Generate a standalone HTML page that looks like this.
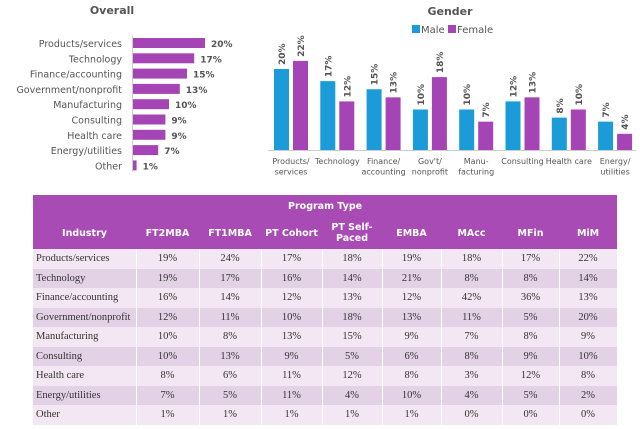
<!DOCTYPE html>
<html><head><meta charset="utf-8"><style>
body{margin:0;background:#fff;width:640px;height:429px;overflow:hidden;font-family:"DejaVu Sans","Liberation Sans",sans-serif}
svg{position:absolute;left:0;top:0}
table{position:absolute;left:33px;top:195px;width:584px;table-layout:fixed;border-collapse:collapse;font-family:"Liberation Serif",serif;font-size:10.5px;color:#333}
td,th{padding:0;text-align:center;white-space:nowrap;overflow:hidden}
td{border-right:1px solid #fff}
th{background:#a84bb4;color:#fff;font-family:"DejaVu Sans",sans-serif;font-size:9.5px;font-weight:bold;line-height:11px}
td{height:19.5px}
tr.l td{background:#f2e7f3} tr.d td{background:#e3d2e6}
td.n{text-align:left;padding-left:3px}
</style></head><body>
<svg width="640" height="195">
<g id="ov"></g>
<g id="gd"></g>
</svg>
<table>
<colgroup><col style="width:103px"><col style="width:63px"><col style="width:62px"><col style="width:61px"><col style="width:60px"><col style="width:59px"><col style="width:61px"><col style="width:57px"><col style="width:58px"></colgroup>
<tr style="height:22px"><th colspan="9">Program Type</th></tr>
<tr style="height:32px"><th>Industry</th><th>FT2MBA</th><th>FT1MBA</th><th>PT Cohort</th><th>PT Self-<br>Paced</th><th>EMBA</th><th>MAcc</th><th>MFin</th><th>MiM</th></tr>
<tbody id="tb"></tbody>
</table>
<script>
const NS="http://www.w3.org/2000/svg";
const categories=["Products/services","Technology","Finance/accounting","Government/nonprofit","Manufacturing","Consulting","Health care","Energy/utilities","Other"];
const overallValues=[20,17,15,13,10,9,9,7,1];
const genderCats=[["Products/","services"],["Technology"],["Finance/","accounting"],["Gov't/","nonprofit"],["Manu-","facturing"],["Consulting"],["Health care"],["Energy/","utilities"]];
const maleValues=[20,17,15,10,10,12,8,7];
const femaleValues=[22,12,13,18,7,13,10,4];
const tableRows=[[19,24,17,18,19,18,17,22],[19,17,16,14,21,8,8,14],[16,14,12,13,12,42,36,13],[12,11,10,18,13,11,5,20],[10,8,13,15,9,7,8,9],[10,13,9,5,6,8,9,10],[8,6,11,12,8,3,12,8],[7,5,11,4,10,4,5,2],[1,1,1,1,1,0,0,0]];
function mk(p,t,a,txt){const e=document.createElementNS(NS,t);for(const k in a)e.setAttribute(k,a[k]);if(txt!==undefined)e.textContent=txt;p.appendChild(e);return e;}
const ov=document.getElementById('ov');
mk(ov,'text',{x:112,y:14,'font-size':11,'font-weight':'bold',fill:'#555','text-anchor':'middle'},'Overall');
const ox=v=>133+v*3.6, oy=i=>43+i*15.3;
mk(ov,'line',{x1:132.5,x2:132.5,y1:36,y2:172,stroke:'#ccc'});
categories.forEach((c,i)=>{
 const t=mk(ov,'text',{x:122,y:oy(i)+4,'font-size':9.5,fill:'#555','text-anchor':'end'},c);
 
 const r=mk(ov,'rect',{x:133,y:oy(i)-5,width:ox(overallValues[i])-133,height:10,fill:'#a545b5'});
 
 mk(ov,'text',{x:ox(overallValues[i])+6,y:oy(i)+4,'font-size':9,'font-weight':'bold',fill:'#555'},overallValues[i]+'%');
});
const gd=document.getElementById('gd');
mk(gd,'text',{x:450,y:15,'font-size':11,'font-weight':'bold',fill:'#555','text-anchor':'middle'},'Gender');
mk(gd,'rect',{x:412,y:25,width:8,height:8,fill:'#1b9bd7'});
mk(gd,'text',{x:421,y:33,'font-size':10,fill:'#555'},'Male');
mk(gd,'rect',{x:448,y:25,width:8,height:8,fill:'#a545b5'});
mk(gd,'text',{x:457,y:33,'font-size':10,fill:'#555'},'Female');
const base=150, gy=v=>base-v*4.05, gx=i=>274+i*46.3;
mk(gd,'line',{x1:268,x2:636,y1:base+.5,y2:base+.5,stroke:'#ccc'});
genderCats.forEach((c,i)=>{
 [[maleValues[i],'#1b9bd7',0,'male-bar'],[femaleValues[i],'#a545b5',19,'female-bar']].forEach(([v,col,off,nm])=>{
  const x=gx(i)+off;
  const r=mk(gd,'rect',{x:x,y:gy(v),width:15,height:base-gy(v),fill:col});
  
  mk(gd,'text',{x:0,y:0,'font-size':9,'font-weight':'bold',fill:'#555',transform:`translate(${x+11},${gy(v)-4}) rotate(-90)`},v+'%');
 });
 c.forEach((l,j)=>mk(gd,'text',{x:gx(i)+17,y:164+j*10.5,'font-size':8,fill:'#555','text-anchor':'middle'},l));
});
const tb=document.getElementById('tb');
tableRows.forEach((row,i)=>{
 const tr=document.createElement('tr');tr.className=i%2?'d':'l';
 
 
 let h=`<td class="n">${categories[i]}</td>`;row.forEach(v=>h+=`<td>${v}%</td>`);tr.innerHTML=h;tb.appendChild(tr);
});
</script>
</body></html>
